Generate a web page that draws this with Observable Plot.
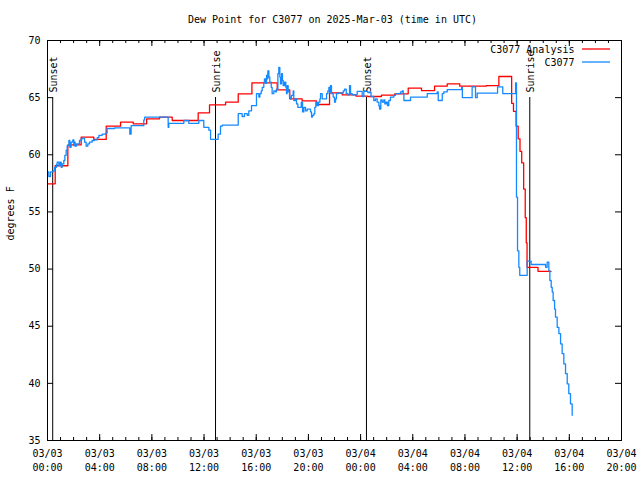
<!DOCTYPE html>
<html><head><meta charset="utf-8">
<script src="https://cdn.jsdelivr.net/npm/d3@7"></script>
<script src="https://cdn.jsdelivr.net/npm/@observablehq/plot@0.6"></script>
<style>body{margin:0;background:#fff}</style>
</head><body><div id="chart"></div>
<script>
const title = "Dew Point for C3077 on 2025-Mar-03 (time in UTC)";
const yLabel = "degrees F";
const seriesNames = ["C3077 Analysis", "C3077"];
const seriesColors = ["#ff0000", "#1589ff"];
const startUTC = Date.UTC(2025, 2, 3, 0, 0);
const endHour = 44;

// hours after 03/03 00:00 UTC
const analysisHours = [0,0.59,1.56,2.58,3.55,4.5,5.6,6.57,7.6,8.59,9.56,11.55,12.42,13.65,14.62,15.67,17.61,18.57,19.52,20.62,21.62,22.59,23.65,24.55,25.6,26.62,27.65,28.67,29.67,30.64,31.6,33.63,34.6,35.58,35.72,35.92,36.08,36.22,36.35,36.5,36.62,36.7,36.76,37.6,38.6];
const analysisValues = [57.46,59.04,60.87,61.54,61.34,62.5,62.85,62.71,63.15,63.29,63.0,63.67,64.37,64.6,65.33,66.3,65.68,64.9,64.72,64.4,65.42,65.25,65.13,65.1,65.22,65.33,65.83,65.62,66.0,66.2,66.0,66.06,66.85,64.5,63.8,62.5,61.4,60.3,59.3,57.0,54.5,52.3,50.15,49.8,49.8];

const obsHours = [0,0.1,0.23,0.43,0.54,0.69,0.74,0.87,0.95,1.05,1.12,1.25,1.33,1.43,1.51,1.64,1.71,1.81,1.94,2.02,2.07,2.12,2.22,2.45,2.58,2.71,2.84,2.96,3.09,3.22,3.42,3.6,3.81,3.94,4.19,4.45,4.57,5.14,6.31,6.41,7.38,7.45,9.25,9.3,10.45,10.83,11.6,11.98,12.37,12.5,13.08,13.26,13.39,14.62,14.92,15.1,15.31,15.43,15.64,16.02,16.2,16.28,16.38,16.46,16.58,16.63,16.71,16.79,16.84,16.89,16.97,17.04,17.15,17.22,17.35,17.48,17.55,17.66,17.73,17.81,17.86,17.94,18.01,18.07,18.17,18.27,18.32,18.37,18.45,18.55,18.63,18.7,18.83,18.88,19.01,19.09,19.19,19.45,19.55,19.65,19.78,19.91,20.16,20.24,20.31,20.42,20.49,20.57,20.67,20.77,20.88,20.93,21.06,21.39,21.49,21.57,21.62,21.69,21.77,21.9,22.0,22.08,22.15,22.28,22.67,22.77,22.9,23.02,23.15,23.23,23.36,23.74,24.12,24.25,24.55,24.8,25.01,25.14,25.27,25.4,25.45,25.55,25.66,25.78,25.86,25.96,26.06,26.16,26.29,26.55,26.68,27.06,27.19,27.27,27.32,27.83,29.11,29.87,29.95,30.26,30.38,30.64,31.74,31.8,32.55,32.81,32.94,34.5,34.9,35.88,35.95,36.03,36.13,36.2,36.77,37.07,38.18,38.3,38.43,38.51,38.61,38.69,38.76,38.87,38.94,39.07,39.2,39.33,39.45,39.58,39.71,39.84,39.96,40.09,40.22];
const obsValues = [58.5,58.1,58.5,58.6,58.9,59.15,59.35,59.05,59.35,58.9,59.2,59.5,59.95,60.4,60.8,61.25,60.65,61.1,61.3,60.8,61.1,60.75,60.95,61.25,61.4,61.45,61.1,60.75,60.95,61.1,61.25,61.3,61.5,61.7,61.8,61.9,62.3,62.35,61.8,62.55,63.05,63.3,62.4,62.75,63.0,62.75,63.0,62.4,62.15,61.35,61.8,62.5,62.6,63.6,63.35,63.6,63.45,63.85,64.3,65.35,65.05,65.35,65.6,65.9,66.35,66.65,66.25,66.95,66.65,67.35,66.8,66.35,65.9,65.35,65.6,65.5,65.75,67.1,67.65,66.8,66.2,67.1,66.5,66.05,66.35,65.9,65.35,66.05,65.5,65.05,64.9,65.2,65.6,64.75,64.9,64.45,64.15,64.6,63.75,64.15,63.85,64.0,63.75,63.3,63.45,63.6,64.15,64.6,64.3,64.6,64.9,65.35,64.9,65.35,65.6,65.9,65.45,66.05,65.35,65.05,64.6,64.9,65.35,65.4,65.6,65.75,65.35,65.25,66.05,65.35,65.25,65.55,65.1,65.55,65.45,65.1,64.75,64.9,64.6,64.3,64.0,64.8,64.6,64.8,64.45,64.6,64.3,64.75,65.05,65.2,65.35,65.5,65.6,65.35,64.75,65.05,65.35,65.5,64.75,65.35,65.5,65.7,65.9,65.0,65.95,65.0,65.4,65.95,65.35,66.3,56.3,51.6,50.15,49.45,50.7,50.4,50.15,50.6,49.85,49.0,48.4,48.0,47.25,46.5,45.8,44.9,44.35,43.45,42.6,41.7,40.85,39.95,39.1,38.2,37.2];

const eventHours = [0.4, 12.88, 24.45, 36.97];
const eventLabels = ["Sunset", "Sunrise", "Sunset", "Sunrise"];

const xTickHours = [0,4,8,12,16,20,24,28,32,36,40,44];
const xTickLabels = ["03/03\n00:00","03/03\n04:00","03/03\n08:00","03/03\n12:00","03/03\n16:00","03/03\n20:00","03/04\n00:00","03/04\n04:00","03/04\n08:00","03/04\n12:00","03/04\n16:00","03/04\n20:00"];
const yTicks = [35,40,45,50,55,60,65,70];

const toDate = h => new Date(startUTC + h * 3600e3);
const analysis = analysisHours.map((h, i) => ({t: toDate(h), v: analysisValues[i]}));
const obs = obsHours.map((h, i) => ({t: toDate(h), v: obsValues[i]}));
const events = eventHours.map((h, i) => ({t: toDate(h), label: eventLabels[i]}));
const minorHours = d3.range(0, endHour + 1);

const svg = Plot.plot({
  width: 640, height: 480,
  marginLeft: 47, marginRight: 19, marginTop: 40, marginBottom: 40,
  style: {fontFamily: "'DejaVu Sans Mono', monospace", fontSize: "10px", background: "white", color: "black"},
  x: {type: "utc", domain: [toDate(0), toDate(endHour)], axis: null},
  y: {domain: [35, 70], axis: null},
  marks: [
    Plot.ruleX(events, {x: "t", insetTop: 57, stroke: "black", strokeWidth: 1}),
    Plot.text(events, {x: "t", text: "label", rotate: -90, textAnchor: "start", lineAnchor: "middle", frameAnchor: "top", dy: 52, dx: 1, fill: "black"}),
    Plot.line(analysis, {x: "t", y: "v", curve: "step-after", stroke: seriesColors[0], strokeWidth: 1.3}),
    Plot.line(obs, {x: "t", y: "v", curve: "step-after", stroke: seriesColors[1], strokeWidth: 1.3}),
    Plot.ruleX(minorHours, {x: toDate, insetTop: 397, stroke: "black"}),
    Plot.ruleX(minorHours, {x: toDate, insetBottom: 397, stroke: "black"}),
    Plot.ruleX(xTickHours, {x: toDate, insetTop: 394, stroke: "black"}),
    Plot.ruleX(xTickHours, {x: toDate, insetBottom: 394, stroke: "black"}),
    Plot.ruleY(yTicks, {y: d => d, insetRight: 568, stroke: "black"}),
    Plot.ruleY(yTicks, {y: d => d, insetLeft: 568, stroke: "black"}),
    Plot.frame({stroke: "black", strokeWidth: 1}),
    Plot.text(xTickHours, {x: toDate, text: (d, i) => xTickLabels[i], frameAnchor: "bottom", lineAnchor: "top", dy: 7, lineHeight: 1.4, fill: "black"}),
    Plot.text(yTicks, {y: d => d, text: d => String(d), frameAnchor: "left", textAnchor: "end", dx: -7, fill: "black"}),
    Plot.text([yLabel], {frameAnchor: "left", lineAnchor: "middle", dx: -37, rotate: -90, fill: "black"}),
    Plot.text([title], {frameAnchor: "top", lineAnchor: "middle", dy: -21, dx: -2, fill: "black"}),
    Plot.text([seriesNames[0]], {frameAnchor: "top-right", lineAnchor: "middle", textAnchor: "end", dx: -47, dy: 9, fill: "black"}),
    Plot.text([seriesNames[1]], {frameAnchor: "top-right", lineAnchor: "middle", textAnchor: "end", dx: -47, dy: 22, fill: "black"})
  ]
});

// legend line samples
const lg = d3.select(svg).append("g");
seriesColors.forEach((c, i) => {
  lg.append("line").attr("x1", 582).attr("x2", 610)
    .attr("y1", 49 + i * 13).attr("y2", 49 + i * 13)
    .attr("stroke", c).attr("stroke-width", 1.3);
});
document.getElementById("chart").appendChild(svg);
</script>
</body></html>
